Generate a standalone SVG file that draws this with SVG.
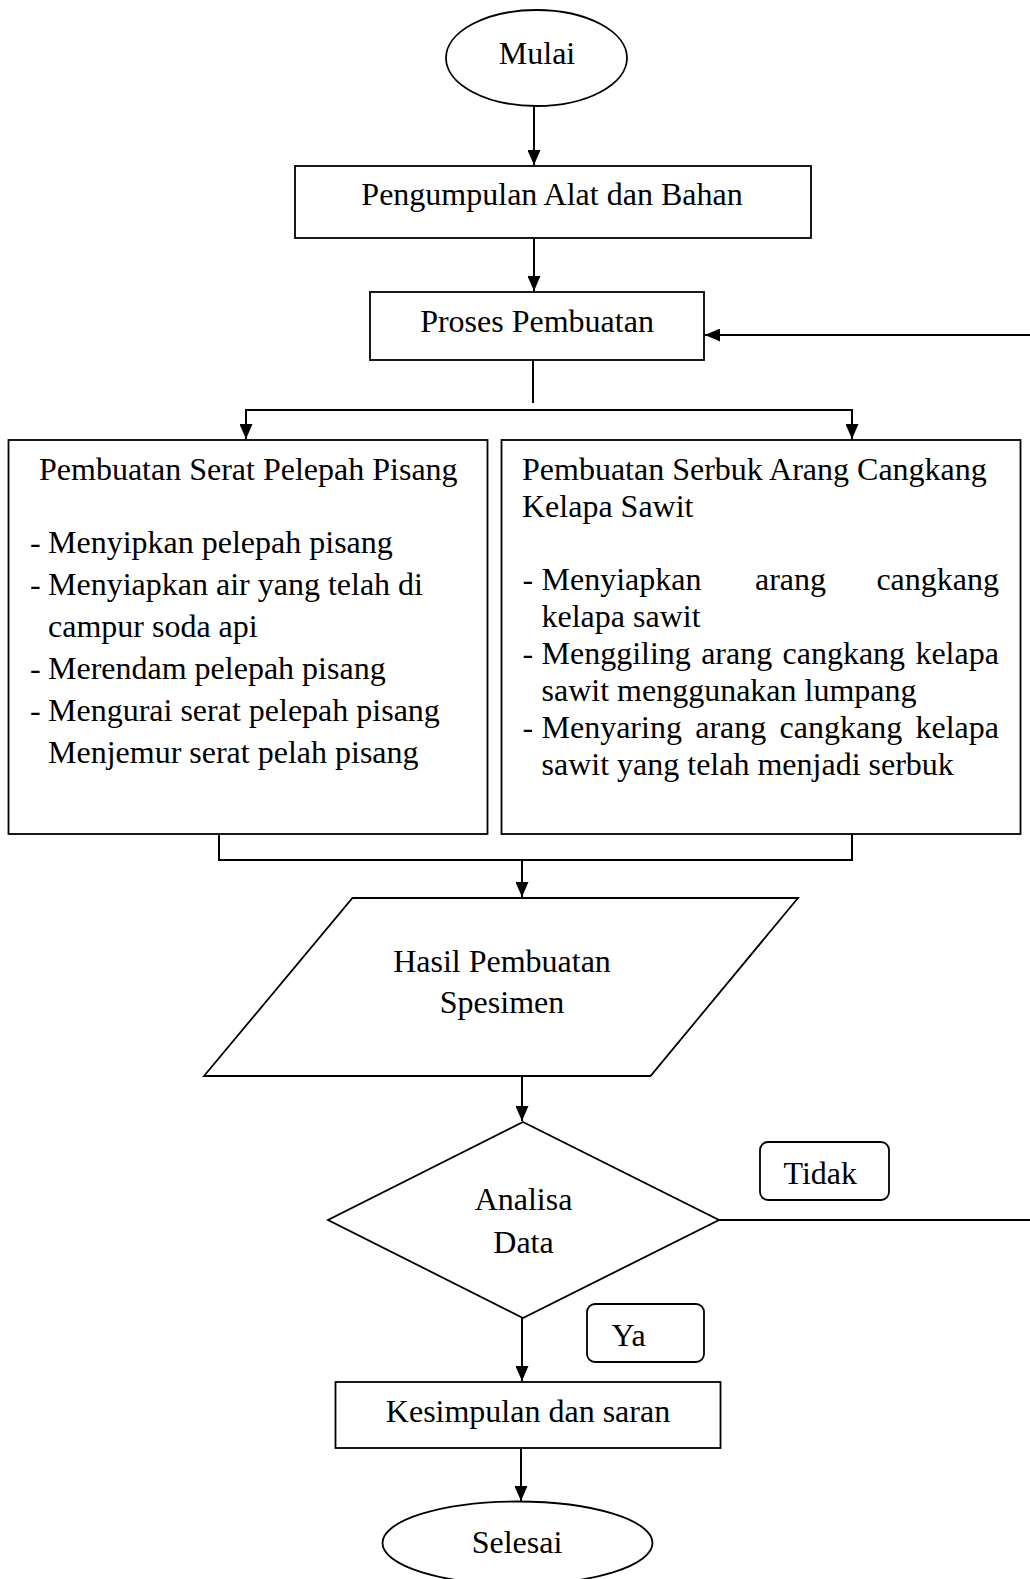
<svg xmlns="http://www.w3.org/2000/svg" width="1030" height="1579" viewBox="0 0 1030 1579">
<style>
  .shape { fill: #fff; stroke: #000; stroke-width: 1.8; }
  .conn { fill: none; stroke: #000; stroke-width: 2; }
  text { font-family: "Liberation Serif", "Times New Roman", serif; font-size: 32px; fill: #000; }
  .c { text-anchor: middle; }
</style>
<defs>
  <marker id="arr" markerUnits="userSpaceOnUse" markerWidth="16" markerHeight="13" refX="15" refY="6.5" orient="auto">
    <path d="M0,0 L15,6.5 L0,13 z" fill="#000"/>
  </marker>
</defs>
<rect width="1030" height="1579" fill="#fff"/>

<g id="connectors">
  <line class="conn" x1="534" y1="106" x2="534" y2="165" marker-end="url(#arr)"/>
  <line class="conn" x1="534" y1="238" x2="534" y2="291" marker-end="url(#arr)"/>
  <line class="conn" x1="533" y1="360" x2="533" y2="403"/>
  <line class="conn" x1="245" y1="410" x2="853" y2="410"/>
  <line class="conn" x1="246" y1="410" x2="246" y2="439" marker-end="url(#arr)"/>
  <line class="conn" x1="852" y1="410" x2="852" y2="439" marker-end="url(#arr)"/>
  <polyline class="conn" points="219,834 219,860 852,860 852,834"/>
  <line class="conn" x1="522" y1="860" x2="522" y2="897" marker-end="url(#arr)"/>
  <line class="conn" x1="522" y1="1076" x2="522" y2="1121" marker-end="url(#arr)"/>
  <line class="conn" x1="522" y1="1318" x2="522" y2="1381" marker-end="url(#arr)"/>
  <line class="conn" x1="521" y1="1448" x2="521" y2="1501" marker-end="url(#arr)"/>
  <path class="conn" d="M719,1220 H1033 V335 H705" marker-end="url(#arr)"/>
</g>

<g id="mulai">
  <ellipse class="shape" cx="536.5" cy="58" rx="90.5" ry="48"/>
  <text class="c" x="537" y="64">Mulai</text>
</g>

<g id="pengumpulan">
  <rect class="shape" x="295" y="166" width="516" height="72"/>
  <text class="c" x="552" y="205">Pengumpulan Alat dan Bahan</text>
</g>

<g id="proses">
  <rect class="shape" x="370" y="292" width="334" height="68"/>
  <text class="c" x="537" y="332">Proses Pembuatan</text>
</g>

<g id="serat">
  <rect class="shape" x="8.5" y="440" width="479" height="394"/>
  <text x="39" y="480">Pembuatan Serat Pelepah Pisang</text>
  <text x="30" y="553">-</text><text x="48" y="553">Menyipkan pelepah pisang</text>
  <text x="30" y="595">-</text><text x="48" y="595">Menyiapkan air yang telah di</text>
  <text x="48" y="637">campur soda api</text>
  <text x="30" y="679">-</text><text x="48" y="679">Merendam pelepah pisang</text>
  <text x="30" y="721">-</text><text x="48" y="721">Mengurai serat pelepah pisang</text>
  <text x="48" y="763">Menjemur serat pelah pisang</text>
</g>

<g id="serbuk">
  <rect class="shape" x="501.5" y="440" width="519" height="394"/>
  <text x="522" y="480">Pembuatan Serbuk Arang Cangkang</text>
  <text x="522" y="517">Kelapa Sawit</text>
  <text x="522.5" y="590">-</text>
  <text y="590"><tspan x="541.5">Menyiapkan</tspan><tspan x="755">arang</tspan><tspan x="999" text-anchor="end">cangkang</tspan></text>
  <text x="541.5" y="627">kelapa sawit</text>
  <text x="522.5" y="664">-</text>
  <text x="541.5" y="664" word-spacing="2.3">Menggiling arang cangkang kelapa</text>
  <text x="541.5" y="701">sawit menggunakan lumpang</text>
  <text x="522.5" y="738">-</text>
  <text x="541.5" y="738" word-spacing="5.3">Menyaring arang cangkang kelapa</text>
  <text x="541.5" y="775">sawit yang telah menjadi serbuk</text>
</g>

<g id="hasil">
  <polygon class="shape" points="352.5,898 798,898 650.5,1076 204,1076"/>
  <text class="c" x="502" y="972">Hasil Pembuatan</text>
  <text class="c" x="502" y="1013">Spesimen</text>
</g>

<g id="analisa">
  <polygon class="shape" points="523,1122 719,1220 523,1318 328,1220"/>
  <text class="c" x="523.5" y="1210">Analisa</text>
  <text class="c" x="523.5" y="1253">Data</text>
</g>

<g id="tidak">
  <rect class="shape" x="760" y="1142" width="129" height="58" rx="8"/>
  <text x="783.5" y="1184">Tidak</text>
</g>

<g id="ya">
  <rect class="shape" x="587" y="1304" width="117" height="58" rx="8"/>
  <text x="611.5" y="1346">Ya</text>
</g>

<g id="kesimpulan">
  <rect class="shape" x="335.5" y="1382" width="385" height="66"/>
  <text class="c" x="528" y="1422">Kesimpulan dan saran</text>
</g>

<g id="selesai">
  <ellipse class="shape" cx="517.5" cy="1543" rx="135" ry="41.5"/>
  <text class="c" x="517" y="1553">Selesai</text>
</g>
</svg>
